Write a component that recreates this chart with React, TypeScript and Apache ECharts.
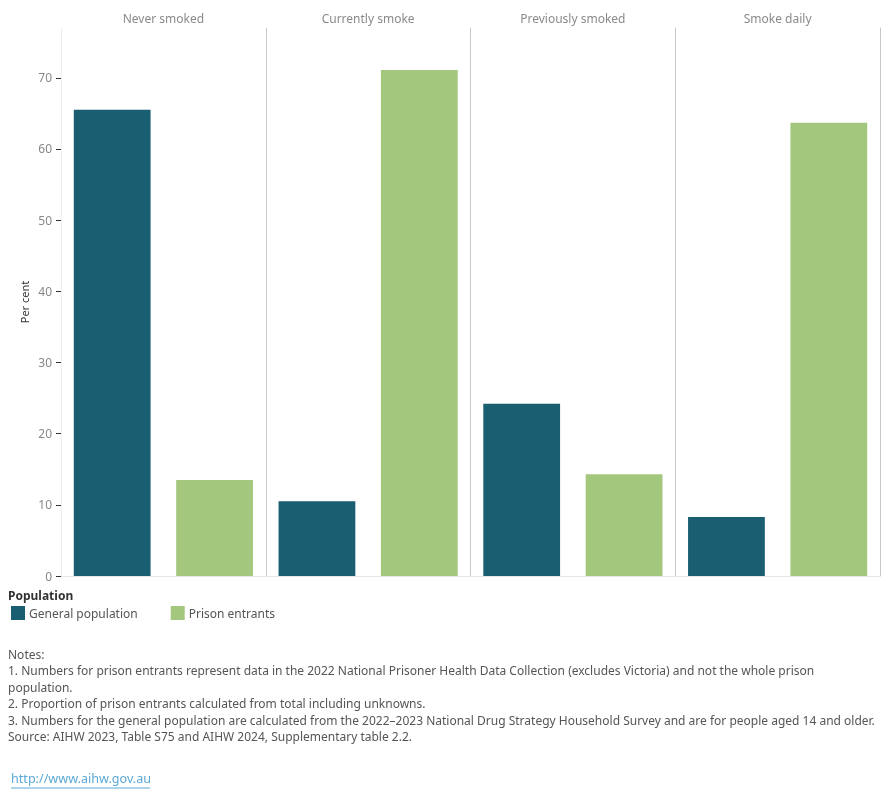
import React, { useEffect, useRef } from "react";
import * as echarts from "echarts";

const panels = ["Never smoked", "Currently smoke", "Previously smoked", "Smoke daily"];
const populations = ["General population", "Prison entrants"];
const generalValues = [65.5, 10.5, 24.2, 8.3];
const prisonValues = [13.5, 71.1, 14.3, 63.7];
const yTicks = [0, 10, 20, 30, 40, 50, 60, 70];
const colors = ["#195e71", "#a3c77d"];
const notes = [
  "Notes:",
  "1. Numbers for prison entrants represent data in the 2022 National Prisoner Health Data Collection (excludes Victoria) and not the whole prison",
  "population.",
  "2. Proportion of prison entrants calculated from total including unknowns.",
  "3. Numbers for the general population are calculated from the 2022\u20132023 National Drug Strategy Household Survey and are for people aged 14 and older.",
  "Source: AIHW 2023, Table S75 and AIHW 2024, Supplementary table 2.2.",
];
const link = "http://www.aihw.gov.au";

const FONT = "'Noto Sans', sans-serif";

export default function App() {
  const ref = useRef<HTMLDivElement>(null);
  useEffect(() => {
    if (!ref.current) return;
    const chart = echarts.init(ref.current, null, { renderer: "svg" });
    const plotLeft = 61;
    const plotRight = 880;
    const top = 28;
    const height = 548;
    const w = (plotRight - plotLeft) / panels.length;
    const yMax = 77;

    const grids: any[] = [];
    const xAxes: any[] = [];
    const yAxes: any[] = [];
    const series: any[] = [];

    panels.forEach((p, i) => {
      grids.push({ left: plotLeft + i * w, top, width: w, height, containLabel: false });
      xAxes.push({
        type: "category",
        gridIndex: i,
        data: populations,
        axisLine: { show: true, lineStyle: { color: "#e6e6e6", width: 1 } },
        axisTick: { show: false },
        axisLabel: { show: false },
      });
      xAxes.push({
        type: "category",
        gridIndex: i,
        position: "top",
        data: [p],
        axisLine: { show: false },
        axisTick: { show: false },
        axisLabel: { show: true, color: "#8a8a8a", fontSize: 12, fontFamily: FONT, margin: 4 },
      });
      yAxes.push({
        type: "value",
        gridIndex: i,
        position: "right",
        min: 0,
        max: yMax,
        axisLine: { show: true, lineStyle: { color: "#c8c8c8", width: 1 } },
        axisTick: { show: false },
        axisLabel: { show: false },
        splitLine: { show: false },
      });
    });
    yAxes.push({
      type: "value",
      gridIndex: 0,
      position: "left",
      min: 0,
      max: yMax,
      name: "Per cent",
      nameLocation: "middle",
      nameRotate: 90,
      nameGap: 31,
      nameTextStyle: { color: "#333", fontSize: 11, fontFamily: FONT },
      axisLine: { show: true, lineStyle: { color: "#eeeeee", width: 1 } },
      axisTick: { show: true, length: 5, lineStyle: { color: "#333" }, customValues: yTicks },
      axisLabel: { show: true, color: "#888", fontSize: 12, fontFamily: FONT, margin: 9, customValues: yTicks },
      splitLine: { show: false },
    });
    const leftAxisIndex = yAxes.length - 1;

    panels.forEach((p, i) => {
      const yIdx = i === 0 ? leftAxisIndex : i;
      series.push({
        type: "bar",
        name: populations[0],
        xAxisIndex: i * 2,
        yAxisIndex: yIdx,
        data: [generalValues[i], "-"],
        barWidth: "75%",
        barGap: "-100%",
        itemStyle: { color: colors[0] },
      });
      series.push({
        type: "bar",
        name: populations[1],
        xAxisIndex: i * 2,
        yAxisIndex: yIdx,
        data: ["-", prisonValues[i]],
        barWidth: "75%",
        barGap: "-100%",
        itemStyle: { color: colors[1] },
      });
    });

    chart.setOption({
      animation: false,
      textStyle: { fontFamily: FONT },
      grid: grids,
      xAxis: xAxes,
      yAxis: yAxes,
      series,
      title: {
        text: "Population",
        left: 3,
        top: 584,
        textStyle: { fontSize: 12, fontWeight: "bold", color: "#333", fontFamily: FONT },
      },
      legend: {
        data: populations,
        left: 11,
        top: 606,
        padding: 0,
        itemWidth: 14,
        itemHeight: 14,
        itemGap: 33,
        icon: "rect",
        textStyle: { color: "#555", fontSize: 12, fontFamily: FONT, padding: [0, 0, 0, -1] },
        selectedMode: false,
      },
      graphic: [
        {
          type: "text",
          left: 8,
          top: 646,
          style: {
            text: notes.join("\n"),
            fill: "#555",
            fontSize: 12,
            lineHeight: 16.5,
            fontFamily: FONT,
          },
        },
        {
          type: "text",
          left: 11,
          top: 772,
          style: { text: link, fill: "#5aa9d6", fontSize: 12.6, fontFamily: FONT },
        },
        {
          type: "line",
          shape: { x1: 11, y1: 788, x2: 150, y2: 788 },
          style: { stroke: "#5aa9d6", lineWidth: 1 },
        },
      ],
    });
    return () => chart.dispose();
  }, []);
  return (
    <div
      ref={ref}
      style={{ position: "fixed", left: 0, top: 0, width: 890, height: 800 }}
    />
  );
}
